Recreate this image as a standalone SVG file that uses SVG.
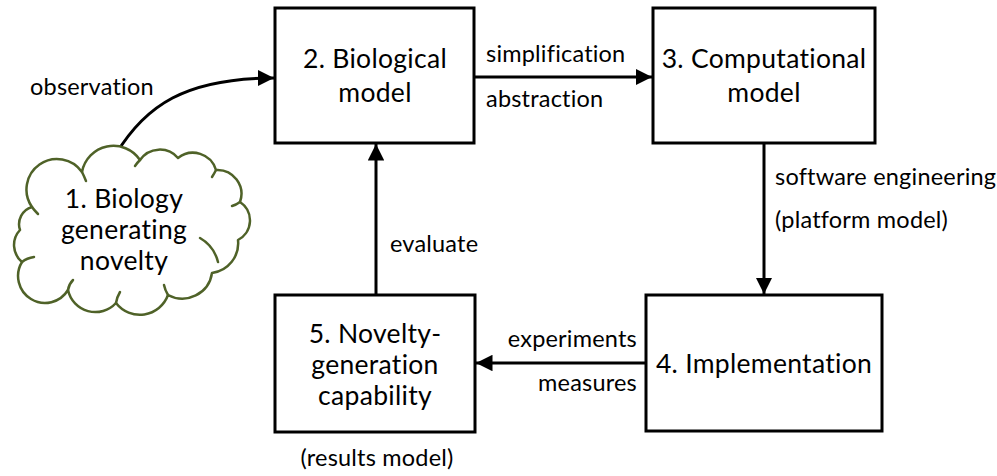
<svg xmlns="http://www.w3.org/2000/svg" width="997" height="476" viewBox="0 0 997 476">
  <style>
    .box { fill: #ffffff; stroke: #000000; stroke-width: 3; }
    .cloud { fill: #ffffff; stroke: #4f6228; stroke-width: 2.5; stroke-linejoin: round; }
    .cloud-in { fill: none; stroke: #4f6228; stroke-width: 2.5; stroke-linecap: round; }
    text { font-family: Lato, "Liberation Sans", sans-serif; fill: #000000; font-variant-ligatures: none; }
    .big { font-size: 26.5px; letter-spacing: 0.3px; text-anchor: middle; }
    .lbl { font-size: 23.5px; letter-spacing: 0.2px; }
    .edge { fill: none; stroke: #000000; stroke-width: 3; }
  </style>
  <defs>
    <marker id="arrow" viewBox="0 0 10 10" refX="10" refY="5" markerWidth="5.5" markerHeight="5.5" markerUnits="strokeWidth" orient="auto">
      <path d="M0,0 L10,5 L0,10 Z" fill="#000000"/>
    </marker>
  </defs>

  <!-- connectors -->
  <g id="connectors">
    <path class="edge" d="M116,154 C145,106 185,78 274,78" marker-end="url(#arrow)"/>
    <line class="edge" x1="474" y1="77" x2="652" y2="77" marker-end="url(#arrow)"/>
    <line class="edge" x1="764" y1="143" x2="764" y2="294" marker-end="url(#arrow)"/>
    <line class="edge" x1="646" y1="363" x2="476" y2="363" marker-end="url(#arrow)"/>
    <line class="edge" x1="376" y1="295" x2="376" y2="144" marker-end="url(#arrow)"/>
    <text class="lbl" x="30" y="95">observation</text>
    <text class="lbl" x="486" y="62">simplification</text>
    <text class="lbl" x="486" y="107">abstraction</text>
    <text class="lbl" x="775" y="185">software engineering</text>
    <text class="lbl" x="775" y="228">(platform model)</text>
    <text class="lbl" x="390" y="252">evaluate</text>
    <text class="lbl" x="637" y="347" text-anchor="end">experiments</text>
    <text class="lbl" x="637" y="391" text-anchor="end">measures</text>
  </g>

  <!-- node 1: cloud -->
  <g id="node1">
    <path class="cloud" d="M32,207 A30,30 0 0 1 82,172 A32,32 0 0 1 140,160 A24,24 0 0 1 178,158 A24,24 0 0 1 216,170 A24,24 0 0 1 240,202 A22,22 0 0 1 238,240 A30,30 0 0 1 212,273 A30,30 0 0 1 168,295 A30,30 0 0 1 116,303 A28,28 0 0 1 68,290 A26,26 0 0 1 22,262 A22,22 0 0 1 20,230 A18,18 0 0 1 32,207 Z"/>
    <path class="cloud-in" d="M32,207 Q34,210 38,214"/>
    <path class="cloud-in" d="M82,172 Q84,176 86,181"/>
    <path class="cloud-in" d="M140,160 Q137,163 135,166"/>
    <path class="cloud-in" d="M216,170 Q214,174 212,177"/>
    <path class="cloud-in" d="M240,202 Q236,205 232,206"/>
    <path class="cloud-in" d="M200,238 Q214,246 218,262"/>
    <path class="cloud-in" d="M168,295 Q165,290 164,285"/>
    <path class="cloud-in" d="M116,303 Q117,297 120,292"/>
    <path class="cloud-in" d="M68,290 Q69,284 73,280"/>
    <path class="cloud-in" d="M22,262 Q27,258 34,257"/>
    <text class="big" x="124" y="208">1. Biology</text>
    <text class="big" x="124" y="239">generating</text>
    <text class="big" x="124" y="270">novelty</text>
  </g>

  <!-- node 2 -->
  <g id="node2">
    <rect class="box" x="275" y="8" width="199" height="135"/>
    <text class="big" x="375" y="68">2. Biological</text>
    <text class="big" x="375" y="102">model</text>
  </g>

  <!-- node 3 -->
  <g id="node3">
    <rect class="box" x="653" y="8" width="222" height="135"/>
    <text class="big" x="764" y="68">3. Computational</text>
    <text class="big" x="764" y="102">model</text>
  </g>

  <!-- node 4 -->
  <g id="node4">
    <rect class="box" x="646" y="295" width="236" height="136"/>
    <text class="big" x="764" y="373">4. Implementation</text>
  </g>

  <!-- node 5 -->
  <g id="node5">
    <rect class="box" x="275" y="295" width="200" height="137"/>
    <text class="big" x="375" y="343">5. Novelty-</text>
    <text class="big" x="375" y="374">generation</text>
    <text class="big" x="375" y="405">capability</text>
    <text class="lbl" x="377" y="466" text-anchor="middle">(results model)</text>
  </g>
</svg>
